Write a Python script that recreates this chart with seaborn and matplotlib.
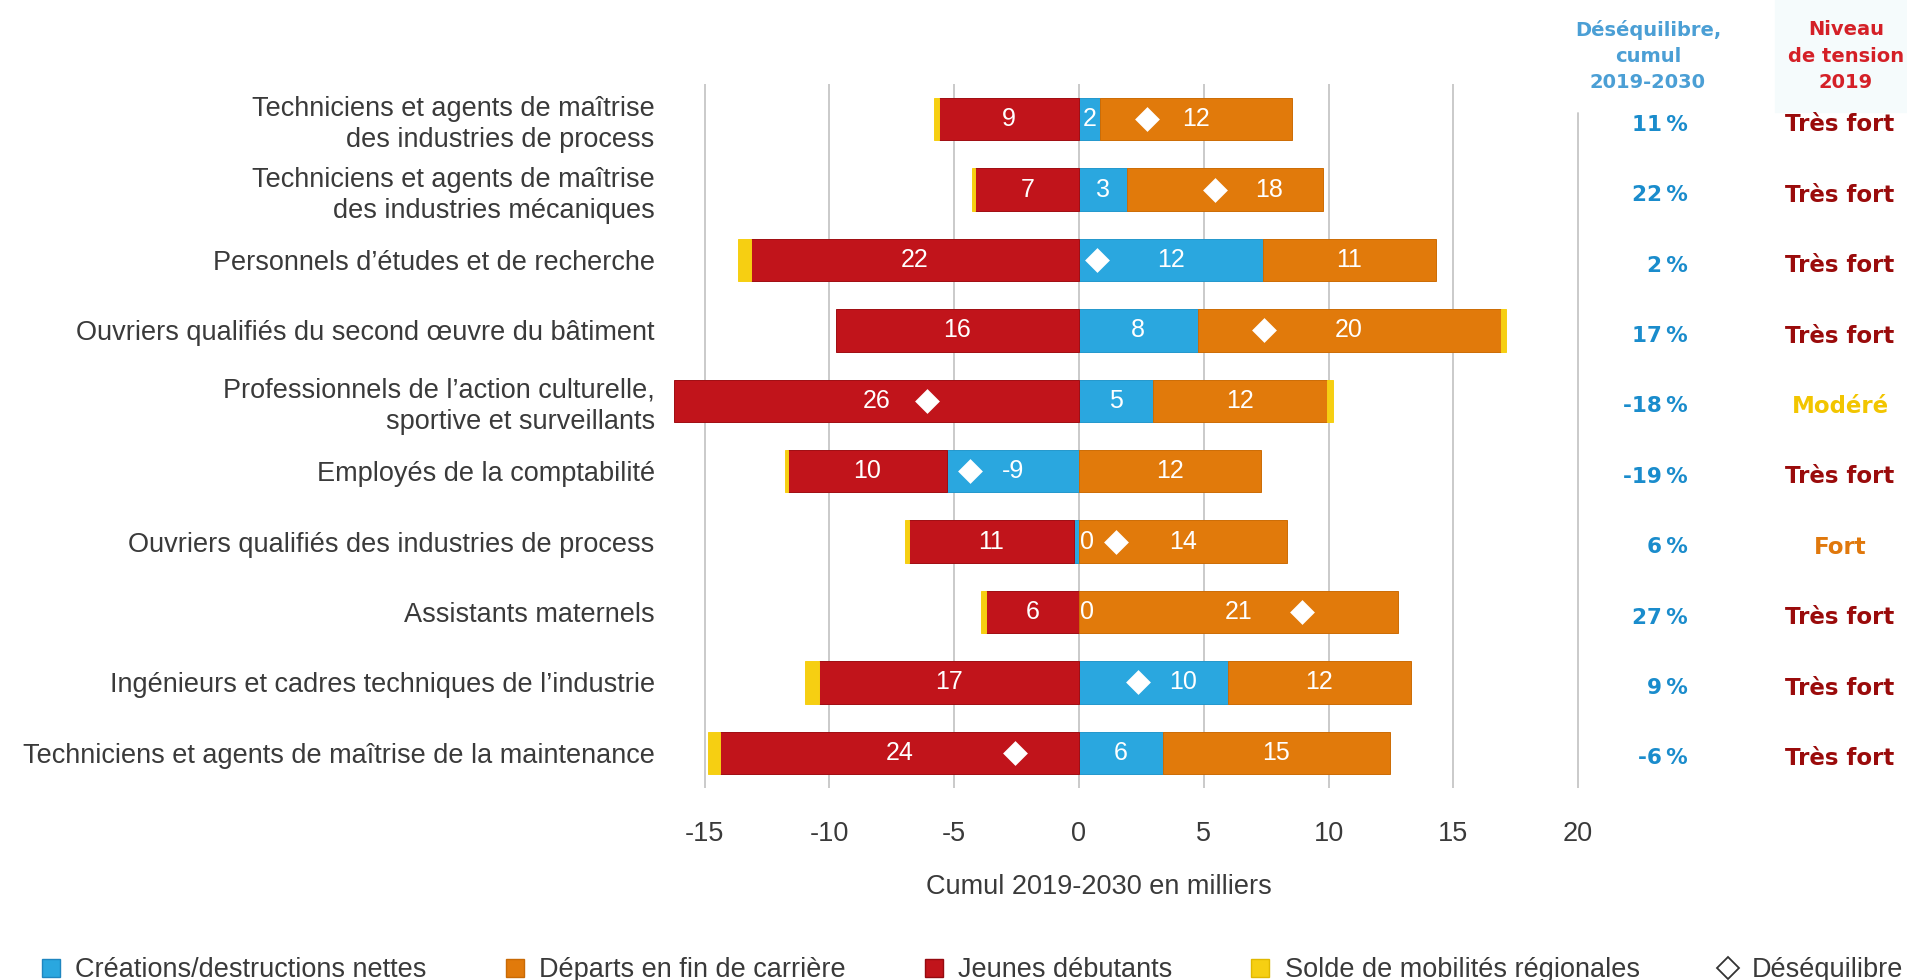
import numpy as np
import matplotlib.pyplot as plt
import seaborn as sns
from matplotlib.lines import Line2D
from matplotlib.patches import Rectangle
from matplotlib.transforms import blended_transform_factory

# métiers, du haut vers le bas
metiers = [
    "Techniciens et agents de maîtrise\ndes industries de process",
    "Techniciens et agents de maîtrise\ndes industries mécaniques",
    "Personnels d’études et de recherche",
    "Ouvriers qualifiés du second œuvre du bâtiment",
    "Professionnels de l’action culturelle,\nsportive et surveillants",
    "Employés de la comptabilité",
    "Ouvriers qualifiés des industries de process",
    "Assistants maternels",
    "Ingénieurs et cadres techniques de l’industrie",
    "Techniciens et agents de maîtrise de la maintenance",
]

creations = [0.86, 1.94, 7.37, 4.75, 2.95, -5.3, -0.2, 0.0, 5.96, 3.36]
departs = [7.66, 7.83, 6.92, 12.15, 7.0, 7.3, 8.35, 12.8, 7.34, 9.09]
jeunes = [-5.6, -4.15, -13.15, -9.75, -16.24, -6.36, -6.62, -3.74, -10.41, -14.38]
solde = [-0.21, -0.14, -0.5, 0.22, 0.22, -0.11, -0.14, -0.2, -0.56, -0.5]
desequilibre = [2.72, 5.47, 0.72, 7.41, -6.08, -4.38, 1.48, 8.95, 2.38, -2.58]

# valeurs affichées dans les barres
lab_creations = [2, 3, 12, 8, 5, -9, 0, 0, 10, 6]
lab_departs = [12, 18, 11, 20, 12, 12, 14, 21, 12, 15]
lab_jeunes = [9, 7, 22, 16, 26, 10, 11, 6, 17, 24]

# colonnes de droite
deseq_pct = ["11", "22", "2", "17", "-18", "-19", "6", "27", "9", "-6"]
tension = ["Très fort", "Très fort", "Très fort", "Très fort", "Modéré",
           "Très fort", "Fort", "Très fort", "Très fort", "Très fort"]

xticks = [-15, -10, -5, 0, 5, 10, 15, 20]

BLEU = "#2aa7df"
ORANGE = "#e17a0b"
ROUGE = "#c1141b"
JAUNE = "#f6cf12"
col_tension = {"Très fort": "#9a0b0b", "Fort": "#e0780c", "Modéré": "#f2c500"}

sns.set_style("white")
plt.rcParams['font.family'] = ['Liberation Sans', 'DejaVu Sans']
plt.rcParams['axes.unicode_minus'] = False

fig = plt.figure(figsize=(19.08, 9.8), dpi=100)
ax = fig.add_axes([0.3497, 0.1959, 0.48, 0.7184])

n = len(metiers)
cre = np.array(creations)
dep = np.array(departs)
jeu = np.array(jeunes)
sol = np.array(solde)
neg_base = np.minimum(cre, 0)
pos_base = np.maximum(cre, 0)
sol_left = np.where(sol < 0, neg_base + jeu, pos_base + dep)

common = dict(orient="y", width=0.6, saturation=1, errorbar=None, ax=ax, zorder=3, linewidth=0.7)
sns.barplot(x=cre, y=metiers, color=BLEU, left=np.zeros(n), edgecolor="#2398cc", **common)
sns.barplot(x=jeu, y=metiers, color=ROUGE, left=neg_base, edgecolor="#a00d12", **common)
sns.barplot(x=dep, y=metiers, color=ORANGE, left=pos_base, edgecolor="#cc6c05", **common)
sns.barplot(x=sol, y=metiers, color=JAUNE, left=sol_left, edgecolor=JAUNE, **common)

sns.scatterplot(x=desequilibre, y=np.arange(n), marker="D", s=160, color="white",
                edgecolor="white", linewidth=0, zorder=5, ax=ax, legend=False)

# valeurs dans les segments
for i in range(n):
    d = desequilibre[i]
    segs = [(0, cre[i], lab_creations[i]), (neg_base[i], jeu[i], lab_jeunes[i]),
            (pos_base[i], dep[i], lab_departs[i])]
    for start, length, lab in segs:
        end = start + length
        if abs(length) < 0.5:
            ax.text(0.05, i, str(lab), ha="left", va="center", color="white",
                    fontsize=18, zorder=6)
            continue
        c = start + length / 2
        if min(start, end) < d < max(start, end) and abs(c - d) < 1.7:
            far = start if abs(start - d) > abs(end - d) else end
            c = (d + far) / 2
        ax.text(c, i, str(lab), ha="center", va="center", color="white",
                fontsize=18, zorder=6)

# grille verticale
for t in xticks:
    ax.axvline(t, color="#c6c6c6", lw=1.3, zorder=0, ymax=0.959 if t == 20 else 1)

ax.set_xlim(-16.5, 20.2)
ax.set_ylim(n - 0.5, -0.5)
ax.set_xticks(xticks)
ax.set_xticklabels([str(t) for t in xticks])
ax.tick_params(axis="x", length=0, pad=24, labelsize=19.5, labelcolor="#3a3a3a")
ax.tick_params(axis="y", length=0, pad=9, labelsize=19.5, labelcolor="#3a3a3a")
for lab in ax.get_yticklabels():
    lab.set_linespacing(1.25)
ax.set_ylabel("")
ax.set_xlabel("Cumul 2019-2030 en milliers", fontsize=19.5, color="#3a3a3a")
ax.xaxis.set_label_coords(0.4708, -0.122)
sns.despine(ax=ax, left=True, bottom=True)

# colonnes de droite
trans = blended_transform_factory(fig.transFigure, ax.transData)
for i in range(n):
    ax.text(1688 / 1908, i + 0.08, deseq_pct[i] + "\u202f%", transform=trans, ha="right",
            va="center", fontsize=15.5, fontweight="bold", color="#1a8ccc",
            family="DejaVu Sans", clip_on=False)
    ax.text(1840 / 1908, i + 0.08, tension[i], transform=trans, ha="center",
            va="center", fontsize=16.5, fontweight="bold", color=col_tension[tension[i]],
            family="DejaVu Sans", clip_on=False)

fig.patches.append(Rectangle((1775 / 1908, 1 - 112 / 980), 133 / 1908, 112 / 980,
                             transform=fig.transFigure, color="#f5fbfc", zorder=-1))
fig.text(1648 / 1908, 1 - 56 / 980, "Déséquilibre,\ncumul\n2019-2030", ha="center",
         va="center", fontsize=14, fontweight="bold", color="#4b9fd5",
         family="DejaVu Sans", linespacing=1.5)
fig.text(1846 / 1908, 1 - 56 / 980, "Niveau\nde tension\n2019", ha="center",
         va="center", fontsize=14, fontweight="bold", color="#d42027",
         family="DejaVu Sans", linespacing=1.5)

# légende
handles = [
    Line2D([], [], marker="s", ls="", ms=13.5, mfc=BLEU, mec="#1f86c0"),
    Line2D([], [], marker="s", ls="", ms=13.5, mfc=ORANGE, mec="#c86a05"),
    Line2D([], [], marker="s", ls="", ms=13.5, mfc=ROUGE, mec="#950a10"),
    Line2D([], [], marker="s", ls="", ms=13.5, mfc=JAUNE, mec="#e0b800"),
    Line2D([], [], marker="D", ls="", ms=11, mfc="white", mec="#333333", mew=1.3),
]
labels = ["Créations/destructions nettes", "Départs en fin de carrière", "Jeunes débutants",
          "Solde de mobilités régionales", "Déséquilibre"]
fig.legend(handles, labels, loc="center left", bbox_to_anchor=(40 / 1908, 10 / 980), ncol=5,
           frameon=False, fontsize=19.5, handlelength=0.8, handletextpad=0.5,
           columnspacing=2.85, borderpad=0, borderaxespad=0, labelcolor="#3a3a3a")

fig.savefig("out.png", dpi=100)
